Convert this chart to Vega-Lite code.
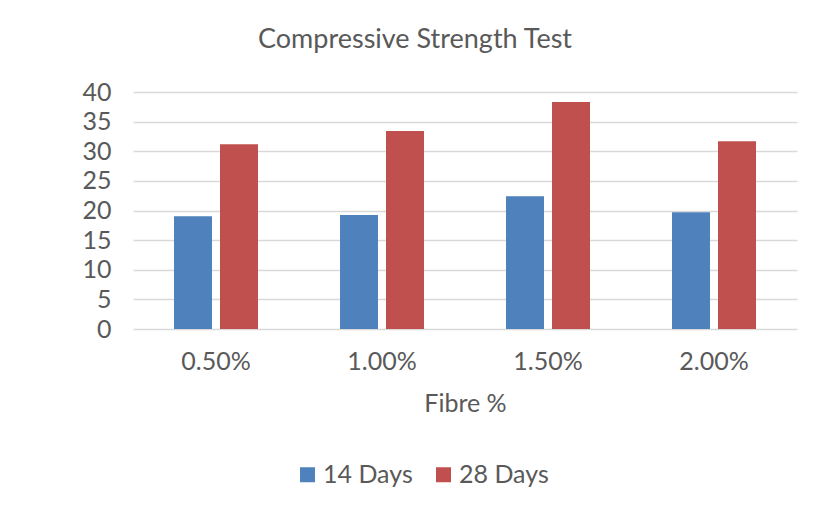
{
  "$schema": "https://vega.github.io/schema/vega-lite/v6.json",
  "autosize": {"type": "none"},
  "width": 664,
  "height": 237,
  "padding": {"left": 133, "top": 92, "right": 17, "bottom": 184},
  "background": "white",
  "config": {
    "view": {"stroke": null},
    "font": "Lato",
    "text": {"color": "#595959"}
  },
  "title": {
    "text": "Compressive Strength Test",
    "fontSize": 27,
    "fontWeight": "normal",
    "color": "#595959",
    "anchor": "middle",
    "dx": -50,
    "offset": 26
  },
  "data": {
    "values": [
      {"fibre": "0.50%", "series": "14 Days", "value": 19.05},
      {"fibre": "0.50%", "series": "28 Days", "value": 31.2},
      {"fibre": "1.00%", "series": "14 Days", "value": 19.25},
      {"fibre": "1.00%", "series": "28 Days", "value": 33.4},
      {"fibre": "1.50%", "series": "14 Days", "value": 22.4},
      {"fibre": "1.50%", "series": "28 Days", "value": 38.3},
      {"fibre": "2.00%", "series": "14 Days", "value": 19.7},
      {"fibre": "2.00%", "series": "28 Days", "value": 31.7}
    ]
  },
  "mark": {"type": "bar"},
  "encoding": {
    "x": {
      "field": "fibre",
      "type": "nominal",
      "sort": null,
      "scale": {"paddingInner": 0.494, "paddingOuter": 0.247},
      "axis": {
        "title": "Fibre %",
        "titleFontSize": 25,
        "titleFontWeight": "normal",
        "titleColor": "#595959",
        "titlePadding": 17,
        "labelFontSize": 25,
        "labelColor": "#595959",
        "labelAngle": 0,
        "labelPadding": 20,
        "domain": false,
        "ticks": false
      }
    },
    "xOffset": {
      "field": "series",
      "type": "nominal",
      "scale": {"paddingInner": 0.174, "paddingOuter": 0}
    },
    "y": {
      "field": "value",
      "type": "quantitative",
      "scale": {"domain": [0, 40], "nice": false},
      "axis": {
        "title": null,
        "values": [0, 5, 10, 15, 20, 25, 30, 35, 40],
        "labelFontSize": 25,
        "labelColor": "#595959",
        "labelPadding": 22,
        "domain": false,
        "ticks": false,
        "grid": true,
        "gridColor": "#d9d9d9",
        "gridWidth": 1.5
      }
    },
    "color": {
      "field": "series",
      "type": "nominal",
      "scale": {"domain": ["14 Days", "28 Days"], "range": ["#4F81BD", "#C0504D"]},
      "legend": {
        "title": null,
        "orient": "none",
        "direction": "horizontal",
        "legendX": 162,
        "legendY": 370,
        "symbolType": "square",
        "symbolSize": 225,
        "symbolStrokeWidth": 0,
        "labelFontSize": 25,
        "labelColor": "#595959",
        "labelOffset": 3,
        "columnPadding": 18
      }
    }
  }
}
